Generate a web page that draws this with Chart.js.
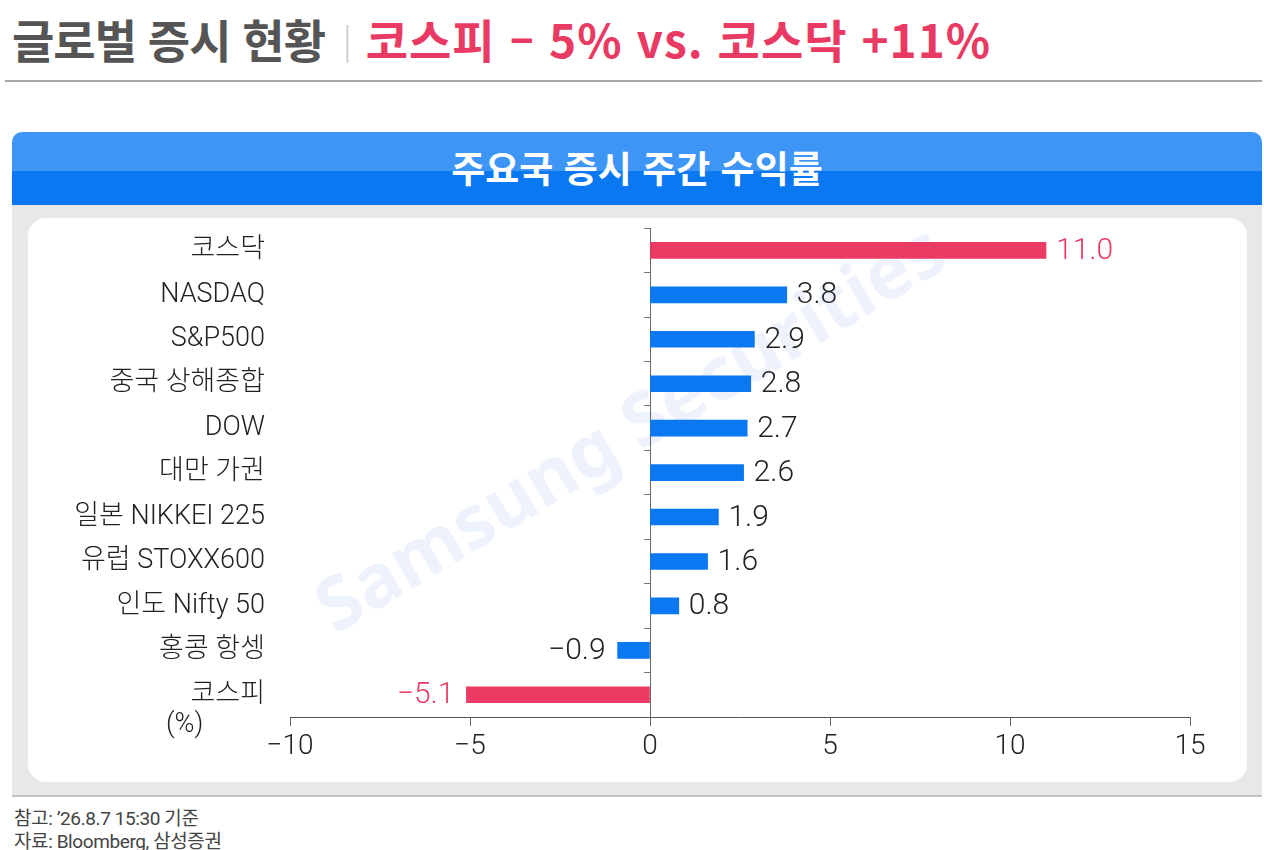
<!DOCTYPE html>
<html lang="ko">
<head>
    <meta charset="UTF-8">
    <title>주요국 증시 주간 수익률</title>
    <script src="https://cdn.jsdelivr.net/npm/chart.js"></script>
    <style>
        body { margin: 0; background: #fff; font-family: Roboto, "Noto Sans CJK KR", sans-serif; }
        .page { position: relative; width: 1264px; height: 850px; overflow: hidden; }
        .headline { position: absolute; left: 12px; top: 5px; font-family: "Noto Sans CJK KR", sans-serif; font-weight: 700; font-size: 46px; white-space: nowrap; }
        .headline .gray { color: #555; letter-spacing: -1px; }
        .headline .bar { color: #c8c8c8; font-weight: 300; font-size: 34px; margin: 0 14px 0 18px; position: relative; top: -5px; }
        .headline .red { color: #e83a62; letter-spacing: 1px; }
        .rule { position: absolute; left: 5px; right: 2px; top: 80px; height: 2px; background: #a8a8a8; }
        .panel-head { position: absolute; left: 12px; top: 132px; width: 1250px; height: 73px; border-radius: 10px 10px 0 0; overflow: hidden;
            background: linear-gradient(#3d95f5 0, #3d95f5 39px, #0a78f0 39px, #0a78f0 100%); }
        .panel-head div { color: #fff; font-family: "Noto Sans CJK KR", sans-serif; font-weight: 700; font-size: 37px; text-align: center; line-height: 70px; }
        .panel-body { position: absolute; left: 12px; top: 205px; width: 1250px; height: 590px; background: #e8e8e8; border-bottom: 2px solid #c4c4c4; }
        .card { position: absolute; left: 28px; top: 218px; width: 1219px; height: 564px; background: #fff; border-radius: 18px; overflow: hidden; }
        .watermark { position: absolute; left: 269px; top: 375px; font-family: "Noto Sans", sans-serif; font-weight: 700; font-size: 74px; color: #edf2fd; transform: rotate(-31deg); transform-origin: center; white-space: nowrap; }
        .chart-box { position: absolute; left: 28px; top: 212px; width: 1219px; height: 570px; }
        .unit { position: absolute; left: 166px; top: 707px; font-size: 27px; font-weight: 300; color: #222; }
        .note { position: absolute; left: 14px; font-size: 19px; color: #444; letter-spacing: -0.4px; }
    </style>
</head>
<body>
<div class="page">
    <div class="headline"><span class="gray">글로벌 증시 현황</span><span class="bar">|</span><span class="red">코스피 – 5% vs. 코스닥 +11%</span></div>
    <div class="rule"></div>

    <div class="panel-head"><div>주요국 증시 주간 수익률</div></div>
    <div class="panel-body"></div>
    <div class="card"></div>
    <div class="watermark">Samsung Securities</div>
    <div class="chart-box"><canvas id="returnChart"></canvas></div>
    <div class="unit">(%)</div>

    <div class="note" style="top: 803px;">참고: ’26.8.7 15:30 기준</div>
    <div class="note" style="top: 826px;">자료: Bloomberg, 삼성증권</div>
</div>

<script>
    // 주간 수익률 (%)
    const markets = ["코스닥", "NASDAQ", "S&P500", "중국 상해종합", "DOW", "대만 가권", "일본 NIKKEI 225", "유럽 STOXX600", "인도 Nifty 50", "홍콩 항셍", "코스피"];
    const weeklyReturns = [11.0, 3.8, 2.9, 2.8, 2.7, 2.6, 1.9, 1.6, 0.8, -0.9, -5.1];
    const highlighted = ["코스닥", "코스피"];
    const xTicks = [-10, -5, 0, 5, 10, 15];

    const PINK = "#eb3a64";
    const BLUE = "#0a78f0";
    const fmtMinus = v => (v < 0 ? "\u2212" : "") + Math.abs(v);

    const barColors = markets.map(m => highlighted.includes(m) ? PINK : BLUE);

    // 막대 끝에 값 표시
    const valueLabels = {
        id: "valueLabels",
        afterDatasetsDraw(chart) {
            const ctx = chart.ctx;
            const meta = chart.getDatasetMeta(0);
            ctx.save();
            ctx.font = "300 30px Roboto, 'Noto Sans CJK KR'";
            ctx.textBaseline = "middle";
            meta.data.forEach((bar, i) => {
                const v = weeklyReturns[i];
                const txt = (v < 0 ? "\u2212" : "") + Math.abs(v).toFixed(1);
                ctx.fillStyle = highlighted.includes(markets[i]) ? PINK : "#222";
                if (v >= 0) {
                    ctx.textAlign = "left";
                    ctx.fillText(txt, bar.x + 10, bar.y + 1);
                } else {
                    ctx.textAlign = "right";
                    ctx.fillText(txt, bar.x - 12, bar.y + 1);
                }
            });
            ctx.restore();
        }
    };

    new Chart(document.getElementById("returnChart"), {
        type: "bar",
        data: {
            labels: markets,
            datasets: [{
                data: weeklyReturns,
                backgroundColor: barColors,
                barThickness: 16,
                xAxisID: "x",
                yAxisID: "y"
            }]
        },
        options: {
            indexAxis: "y",
            responsive: true,
            maintainAspectRatio: false,
            animation: false,
            layout: { padding: { top: 0, right: 57, left: 0, bottom: 0 } },
            plugins: {
                legend: { display: false },
                tooltip: { enabled: false }
            },
            scales: {
                x: {
                    type: "linear",
                    position: "bottom",
                    min: xTicks[0],
                    max: xTicks[xTicks.length - 1],
                    afterBuildTicks: axis => { axis.ticks = xTicks.map(v => ({ value: v })); },
                    afterFit: axis => { axis.height = 65; },
                    grid: { drawOnChartArea: false, tickLength: 9, color: "#666", lineWidth: 1 },
                    border: { color: "#555", width: 1 },
                    ticks: {
                        padding: 4,
                        color: "#222",
                        font: { size: 28, weight: 300, family: "Roboto" },
                        callback: v => fmtMinus(v)
                    }
                },
                y: {
                    type: "category",
                    position: { x: 0 },
                    offset: true,
                    grid: { drawOnChartArea: false, offset: true, tickLength: 6, color: "#777" },
                    border: { color: "#666", width: 1 },
                    ticks: { display: false }
                },
                yl: {
                    type: "category",
                    position: "left",
                    offset: true,
                    afterFit: axis => { axis.width = 262; },
                    grid: { display: false, drawTicks: true, tickLength: 25 },
                    border: { display: false },
                    ticks: {
                        padding: 0,
                        color: "#222",
                        font: { size: 27, weight: 300, family: "Roboto, 'Noto Sans CJK KR'" }
                    }
                }
            }
        },
        plugins: [valueLabels]
    });
</script>
</body>
</html>
